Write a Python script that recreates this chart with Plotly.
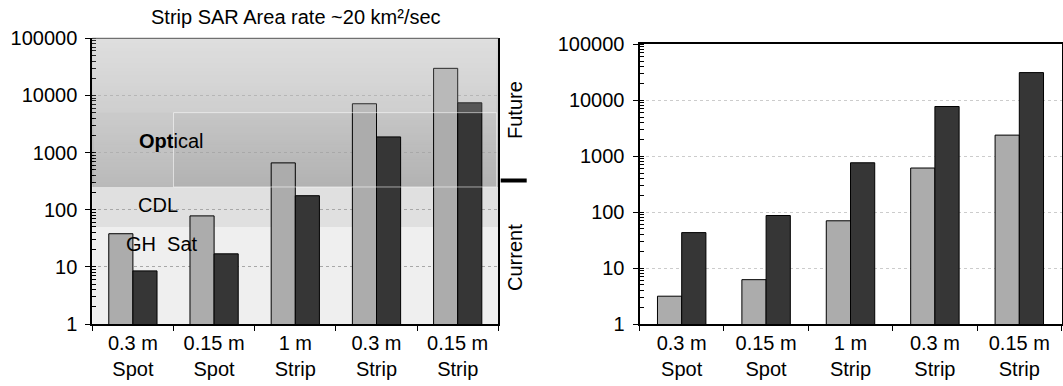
import plotly.graph_objects as go
import numpy as np

# ---------------- data ----------------
categories = ["0.3 m<br>Spot", "0.15 m<br>Spot", "1 m<br>Strip", "0.3 m<br>Strip", "0.15 m<br>Strip"]
left_light = [38, 78, 660, 7150, 29800]
left_dark = [8.5, 16.9, 176, 1880, 7430]
right_light = [3.14, 6.2, 70, 614, 2380]
right_dark = [43, 87, 762, 7730, 31200]
y_tickvals = [1, 10, 100, 1000, 10000, 100000]
y_ticktext = ["1", "10", "100", "1000", "10000", "100000"]
band_levels = [1, 50, 250, 5000, 100000]   # GH Sat | CDL | Optical | future overlay
title_text = "Strip SAR Area rate ~20 km²/sec"
region_labels = ["<b>Opt</b>ical", "CDL", "GH\u00a0 Sat"]
side_labels = ["Future", "Current"]

W, H = 1063, 386
FONT = "Liberation Sans, Arial, Helvetica, sans-serif"
FS = 20


def px(x):
    return x / W


def py(y):
    return 1 - y / H


def dom(v):  # value -> y domain fraction for log range [0, 5]
    return np.log10(v) / 5.0


LIGHT = "#acacac"
DARK = "#363636"

fig = go.Figure()
bw_l = 0.297
bw_r = 0.287
fig.add_trace(go.Bar(x=categories, y=left_light, xaxis="x", yaxis="y", width=bw_l, offset=-bw_l,
                     marker=dict(color=LIGHT, line=dict(color="black", width=1))))
fig.add_trace(go.Bar(x=categories, y=left_dark, xaxis="x", yaxis="y", width=bw_l, offset=0,
                     marker=dict(color=DARK, line=dict(color="black", width=1))))
fig.add_trace(go.Bar(x=categories, y=right_light, xaxis="x2", yaxis="y2", width=bw_r, offset=-bw_r,
                     marker=dict(color=LIGHT, line=dict(color="black", width=1))))
fig.add_trace(go.Bar(x=categories, y=right_dark, xaxis="x2", yaxis="y2", width=bw_r, offset=0,
                     marker=dict(color=DARK, line=dict(color="black", width=1))))

shapes = []
# background bands (left panel)
shapes.append(dict(type="rect", xref="x domain", yref="y domain", x0=0, x1=1,
                   y0=dom(band_levels[0]), y1=dom(band_levels[1]), fillcolor="#efefef",
                   line=dict(width=0), layer="below"))
shapes.append(dict(type="rect", xref="x domain", yref="y domain", x0=0, x1=1,
                   y0=dom(band_levels[1]), y1=dom(band_levels[2]), fillcolor="#e0e0e0",
                   line=dict(width=0), layer="below"))
# gradient (optical / future region): stacked strips, each reaching to the top (no seams)
n = 60
g0, g1 = dom(band_levels[2]), dom(band_levels[4])
c_bot, c_top = 0xb2, 0xd9
for i in range(n):
    a = g0 + (g1 - g0) * i / n
    t = (i + 0.5) / n
    c = int(round(c_bot + (c_top - c_bot) * t))
    shapes.append(dict(type="rect", xref="x domain", yref="y domain", x0=0, x1=1, y0=a, y1=g1,
                       fillcolor=f"rgb({c},{c},{c})", line=dict(width=0), layer="below"))
# semi-transparent overlay above bars
shapes.append(dict(type="rect", xref="x domain", yref="y domain", x0=0, x1=0.996,
                   y0=dom(band_levels[3]), y1=1, fillcolor="rgba(255,255,255,0.16)",
                   line=dict(width=0), layer="above"))
shapes.append(dict(type="rect", xref="x domain", yref="y domain", x0=0.004, x1=0.2,
                   y0=dom(band_levels[2]), y1=dom(band_levels[3]), fillcolor="rgba(255,255,255,0.10)",
                   line=dict(width=0), layer="above"))
shapes.append(dict(type="rect", xref="x domain", yref="y domain", x0=0.2, x1=0.996,
                   y0=dom(band_levels[2]), y1=dom(band_levels[3]), fillcolor="rgba(0,0,0,0)",
                   line=dict(color="rgba(255,255,255,0.55)", width=1), layer="above"))
# top border of left panel
shapes.append(dict(type="line", xref="x domain", yref="y domain", x0=0, x1=1, y0=1, y1=1,
                   line=dict(color="#555555", width=1), layer="above"))
# future/current divider mark
shapes.append(dict(type="line", xref="paper", yref="paper", x0=px(500.7), x1=px(526.7),
                   y0=py(180.5), y1=py(180.5), line=dict(color="black", width=4)))

annotations = [
    dict(text=title_text, xref="paper", yref="paper", x=px(296), y=py(17), showarrow=False,
         xanchor="center", yanchor="middle", font=dict(size=FS, color="black", family=FONT)),
    dict(text=region_labels[0], xref="paper", yref="paper", x=px(137), y=py(141), showarrow=False,
         xanchor="left", yanchor="middle", font=dict(size=FS, color="black", family=FONT)),
    dict(text=region_labels[1], xref="paper", yref="paper", x=px(136), y=py(205), showarrow=False,
         xanchor="left", yanchor="middle", font=dict(size=FS, color="black", family=FONT)),
    dict(text=region_labels[2], xref="paper", yref="paper", x=px(123.5), y=py(244.3), showarrow=False,
         xanchor="left", yanchor="middle", font=dict(size=FS, color="black", family=FONT)),
    dict(text=side_labels[0], xref="paper", yref="paper", x=px(515), y=py(110), showarrow=False,
         textangle=-90, xanchor="center", yanchor="middle", font=dict(size=FS, color="black", family=FONT)),
    dict(text=side_labels[1], xref="paper", yref="paper", x=px(515), y=py(258), showarrow=False,
         textangle=-90, xanchor="center", yanchor="middle", font=dict(size=FS, color="black", family=FONT)),
]


def xaxis_cfg(domain, anchor, mirror):
    return dict(domain=domain, anchor=anchor, type="category", range=[-0.5, 4.5],
                tickson="boundaries", ticks="outside", ticklen=5, tickwidth=1, tickcolor="black",
                showline=True, linecolor="black", linewidth=2, mirror=mirror, showgrid=False,
                tickfont=dict(size=FS, color="black", family=FONT), automargin=False, fixedrange=True)


def yaxis_cfg(domain, anchor, gridcolor):
    return dict(domain=domain, anchor=anchor, type="log", range=[0, 5],
                tickmode="array", tickvals=y_tickvals, ticktext=y_ticktext,
                ticks="outside", ticklen=5, tickwidth=1, tickcolor="black", ticklabelstandoff=4,
                minor=dict(ticks="inside", ticklen=4, tickwidth=1, tickcolor="black",
                           tickmode="linear", dtick="D1", showgrid=False),
                showgrid=True, gridcolor=gridcolor, griddash="dot", gridwidth=1,
                showline=True, linecolor="black", linewidth=2, mirror=True,
                tickfont=dict(size=FS, color="black", family=FONT), automargin=False, fixedrange=True)


fig.update_layout(
    width=W, height=H,
    margin=dict(l=0, r=0, t=0, b=0),
    paper_bgcolor="white", plot_bgcolor="white",
    showlegend=False, barmode="overlay",
    font=dict(family=FONT, size=FS, color="black"),
    xaxis=xaxis_cfg([px(92.3), px(498.3)], "y", False),
    yaxis=yaxis_cfg([py(324), py(38.3)], "x", "#a8a8a8"),
    xaxis2=xaxis_cfg([px(639.5), px(1061.5)], "y2", True),
    yaxis2=yaxis_cfg([py(324), py(44.3)], "x2", "#cccccc"),
    shapes=shapes, annotations=annotations,
)

fig.write_html("out.html", config={"displayModeBar": False},
               post_script="document.body.style.margin='0px';document.body.style.overflow='hidden';")
